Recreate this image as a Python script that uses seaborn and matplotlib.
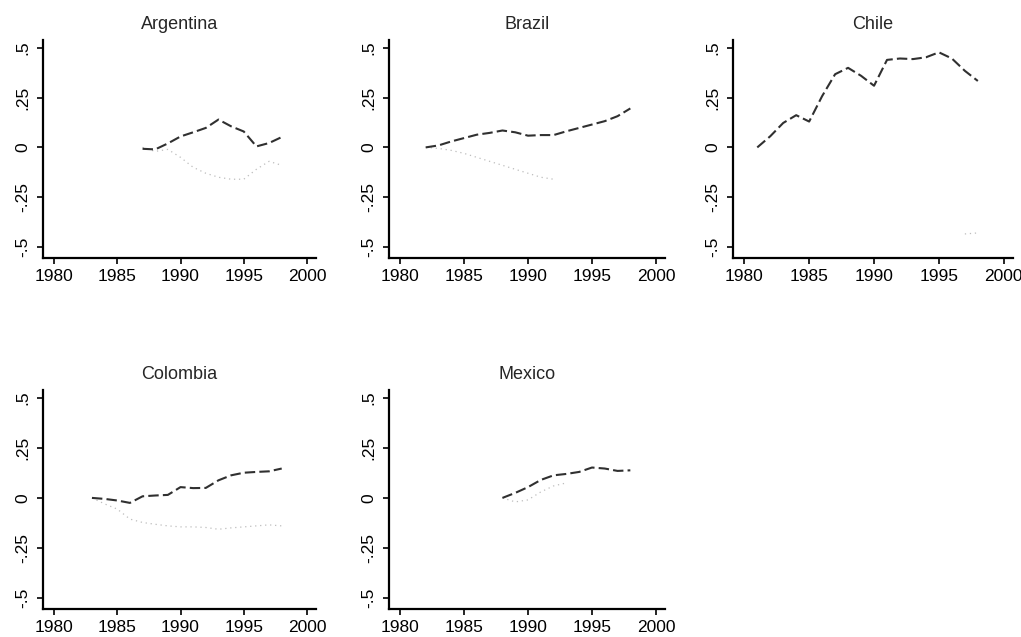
import matplotlib
matplotlib.use("Agg")
import matplotlib.pyplot as plt
import seaborn as sns
import pandas as pd

# ---- data ----
countries = ["Argentina", "Brazil", "Chile", "Colombia", "Mexico"]

arg_years = [1987, 1988, 1989, 1990, 1991, 1992, 1993, 1994, 1995, 1996, 1997, 1998]
arg_main = [-0.007, -0.01, 0.02, 0.055, 0.076, 0.098, 0.14, 0.106, 0.08, 0.005, 0.022, 0.052]
arg_alt_years = [1987, 1988, 1989, 1990, 1991, 1992, 1993, 1994, 1995, 1996, 1997, 1998]
arg_alt = [0.0, -0.02, -0.01, -0.05, -0.10, -0.13, -0.15, -0.16, -0.16, -0.11, -0.07, -0.09]

bra_years = list(range(1982, 1999))
bra_main = [0.0, 0.01, 0.03, 0.047, 0.064, 0.073, 0.085, 0.076, 0.059, 0.062, 0.062,
            0.081, 0.098, 0.115, 0.132, 0.157, 0.196]
bra_alt_years = list(range(1982, 1993))
bra_alt = [0.0, -0.005, -0.015, -0.03, -0.05, -0.07, -0.09, -0.11, -0.13, -0.15, -0.16]

chi_years = list(range(1981, 1999))
chi_main = [0.0, 0.056, 0.123, 0.162, 0.13, 0.258, 0.368, 0.40, 0.36, 0.31, 0.44,
            0.447, 0.444, 0.453, 0.478, 0.447, 0.385, 0.334]
chi_alt_years = [1997, 1998]
chi_alt = [-0.435, -0.43]

col_years = list(range(1983, 1999))
col_main = [0.0, -0.005, -0.013, -0.025, 0.008, 0.012, 0.015, 0.054, 0.049, 0.05,
            0.088, 0.113, 0.126, 0.13, 0.133, 0.147]
col_alt_years = list(range(1983, 1999))
col_alt = [0.0, -0.03, -0.056, -0.106, -0.123, -0.132, -0.14, -0.145, -0.145, -0.148,
           -0.157, -0.15, -0.145, -0.14, -0.135, -0.14]

mex_years = list(range(1988, 1999))
mex_main = [0.0, 0.025, 0.054, 0.09, 0.113, 0.12, 0.13, 0.152, 0.147, 0.135, 0.138]
mex_alt_years = list(range(1988, 1994))
mex_alt = [0.0, -0.02, -0.01, 0.03, 0.06, 0.075]

series = {
    "Argentina": (arg_years, arg_main, arg_alt_years, arg_alt),
    "Brazil": (bra_years, bra_main, bra_alt_years, bra_alt),
    "Chile": (chi_years, chi_main, chi_alt_years, chi_alt),
    "Colombia": (col_years, col_main, col_alt_years, col_alt),
    "Mexico": (mex_years, mex_main, mex_alt_years, mex_alt),
}

x_ticks = [1980, 1985, 1990, 1995, 2000]
y_ticks = [-0.5, -0.25, 0, 0.25, 0.5]
y_tick_labels = ["-.5", "-.25", "0", ".25", ".5"]

# ---- style ----
sns.set_style("ticks")
plt.rcParams["font.family"] = ["Liberation Sans", "DejaVu Sans"]

W, H = 1021, 637
fig = plt.figure(figsize=(W / 100, H / 100), dpi=100)

# panel boxes in pixels: (left, right, top, bottom)
boxes = {
    "Argentina": (43, 316, 40, 258),
    "Brazil": (389, 665, 40, 258),
    "Chile": (733, 1013, 40, 258),
    "Colombia": (43, 316, 390, 609),
    "Mexico": (389, 665, 390, 609),
}

for name in countries:
    l, r, t, b = boxes[name]
    ax = fig.add_axes([l / W, 1 - b / H, (r - l) / W, (b - t) / H])
    yrs, main, ayrs, alt = series[name]
    df_main = pd.DataFrame({"year": yrs, "value": main})
    df_alt = pd.DataFrame({"year": ayrs, "value": alt})
    sns.lineplot(data=df_alt, x="year", y="value", ax=ax, color="#bdbdbd",
                 linewidth=0.9, linestyle=(0, (1, 3)))
    sns.lineplot(data=df_main, x="year", y="value", ax=ax, color="#303030",
                 linewidth=1.5, linestyle=(0, (5, 2)))
    ax.set_xlim(1979.13, 2000.71)
    ax.set_ylim(-0.556, 0.54)
    ax.set_xticks(x_ticks)
    ax.set_xticklabels([str(v) for v in x_ticks])
    ax.set_yticks(y_ticks)
    ax.set_yticklabels(y_tick_labels, rotation=90, va="center")
    ax.set_xlabel("")
    ax.set_ylabel("")
    ax.set_title(name, fontsize=13, pad=8)
    for s in ["top", "right"]:
        ax.spines[s].set_visible(False)
    for s in ["left", "bottom"]:
        ax.spines[s].set_linewidth(1.6)
        ax.spines[s].set_color("black")
    ax.tick_params(axis="both", direction="out", length=4, width=1.2, colors="black",
                   labelsize=12.5, pad=4)
    ax.tick_params(axis="y", pad=5)

fig.savefig("out.png", dpi=100)
